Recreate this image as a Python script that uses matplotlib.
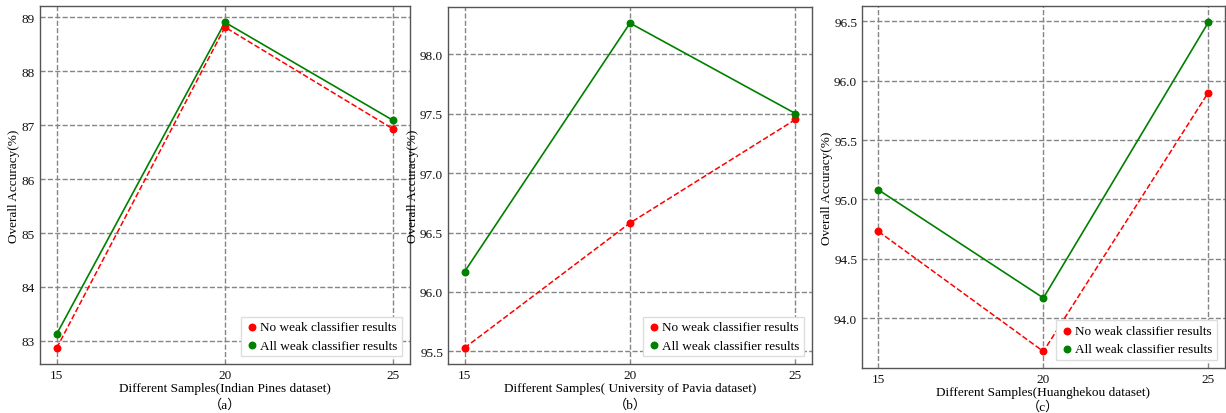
import matplotlib
matplotlib.use("Agg")
import matplotlib.pyplot as plt
from matplotlib.ticker import FormatStrFormatter

plt.rcParams["font.family"] = ["Liberation Serif", "Noto Sans CJK SC"]
plt.rcParams["font.size"] = 9.5

# ── 数据 ──
samples = [15, 20, 25]

ip_none = [82.87, 88.82, 86.93]
ip_all = [83.13, 88.91, 87.09]

pu_none = [95.53, 96.58, 97.45]
pu_all = [96.17, 98.26, 97.50]

hk_none = [94.73, 93.72, 95.90]
hk_all = [95.08, 94.17, 96.49]

xlabels = [
    "Different Samples(Indian Pines dataset)",
    "Different Samples( University of Pavia dataset)",
    "Different Samples(Huanghekou dataset)",
]
captions = ["（a）", "（b）", "（c）"]

# 坐标轴位置 [left, bottom, width, height]
positions = [
    [0.0326, 0.118, 0.3018, 0.865],
    [0.3654, 0.118, 0.2969, 0.863],
    [0.7031, 0.109, 0.2959, 0.874],
]
caption_y = [0.020, 0.020, 0.017]

fig = plt.figure(figsize=(12.26, 4.14), dpi=100)

panels = [(ip_none, ip_all), (pu_none, pu_all), (hk_none, hk_all)]
for i, (none, full) in enumerate(panels):
    ax = fig.add_axes(positions[i])
    ax.plot(samples, none, color="red", linestyle="--", linewidth=1.1, zorder=3)
    ax.plot(samples, full, color="green", linestyle="-", linewidth=1.2, zorder=3)
    ax.scatter(samples, none, color="red", s=22, zorder=4,
               label="No weak classifier results")
    ax.scatter(samples, full, color="green", s=22, zorder=4,
               label="All weak classifier results")

    ax.set_xticks(samples)
    if i > 0:
        ax.yaxis.set_major_formatter(FormatStrFormatter("%.1f"))
    ax.grid(True, color="#858585", linestyle="--", linewidth=1.0, zorder=0)
    ax.tick_params(length=0, pad=3.5, labelsize=9.5, colors="#111111")
    for spine in ax.spines.values():
        spine.set_color("#555555")
        spine.set_linewidth(1.0)

    ax.set_xlabel(xlabels[i], fontsize=9.5, labelpad=1)
    ax.set_ylabel("Overall Accuracy(%)", fontsize=9.5, labelpad=1)
    ax.legend(loc="lower right", fontsize=9.5, handletextpad=0.1,
              borderpad=0.35, labelspacing=0.45, fancybox=False,
              framealpha=1.0, edgecolor="#dddddd", handlelength=1.0,
              borderaxespad=0.6, scatterpoints=1)

    cx = positions[i][0] + positions[i][2] / 2
    fig.text(cx, caption_y[i], captions[i], ha="center", va="center", fontsize=9.5)

fig.savefig("out.png", dpi=100)
